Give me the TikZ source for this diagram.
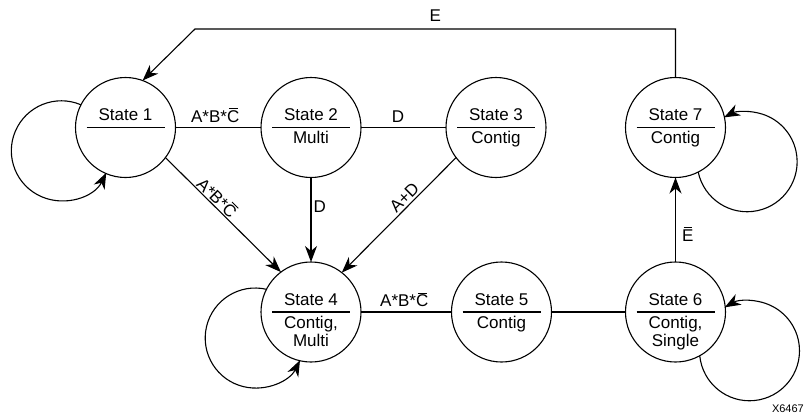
\documentclass[tikz,border=0pt]{standalone}
\usepackage{fontspec}
\setmainfont{Liberation Sans}
\usetikzlibrary{arrows.meta}
\newcommand\mfont{\fontsize{17}{18}\selectfont}
\newcommand\ovl[1]{\begingroup\setbox0\hbox{#1}\rlap{\raisebox{\dimexpr\ht0+1.3pt\relax}{\hbox to \wd0{\hss\rule{0.72\wd0}{0.9pt}\hss}}}\box0\endgroup}
\newcommand\stxt[3]{%
  \draw[conn] ([xshift=-39pt]#1.center) -- ([xshift=39pt]#1.center);
  \node[anchor=base] (#1top) at ([yshift=6.6pt]#1.center) {#2};
  \node[anchor=base] (#1bot) at ([yshift=-16pt]#1.center) {\begin{tabular}[t]{@{}c@{}}#3\end{tabular}};}
\newcommand\selfloop[3]{%
  \pgfmathsetmacro\lpA{#2-#3}%
  \pgfmathsetmacro\lpB{#2+180+#3}%
  \pgfmathsetmacro\lpC{360-2*#3}%
  \draw[arr] (#1.\lpA) arc[start angle=\lpB, delta angle=\lpC, radius=50pt];}
\begin{document}
\begin{tikzpicture}[x=1pt,y=-1pt,
  every node/.style={font=\mfont},
  conn/.style={line width=1.1pt, draw=black},
  arr/.style={conn, -{Stealth[length=16pt,width=12pt,inset=5pt]}},
  state/.style={circle, draw, line width=1.1pt, minimum size=100pt, inner sep=0pt, outer sep=0pt}]
\useasboundingbox (0,0) rectangle (805,415);
% states
\node[state] (s1) at (125.5,127.5) {};
\node[state] (s2) at (311,127.5) {};
\node[state] (s3) at (496,127.5) {};
\node[state] (s7) at (675.5,127.5) {};
\node[state] (s4) at (311,312) {};
\node[state] (s5) at (501.5,312) {};
\node[state] (s6) at (675.5,312) {};
\stxt{s1}{State 1}{}
\stxt{s2}{State 2}{Multi}
\stxt{s3}{State 3}{Contig}
\stxt{s7}{State 7}{Contig}
\stxt{s4}{State 4}{Contig,\\Multi}
\stxt{s5}{State 5}{Contig}
\stxt{s6}{State 6}{Contig,\\Single}
% connectors
\draw[conn] (s1) -- node[anchor=base, yshift=5.3pt, xshift=-3pt] (l12) {A*B*\ovl{C}} (s2);
\draw[conn] (s2) -- node[anchor=base, yshift=5.3pt, xshift=-5.5pt] (l23) {D} (s3);
\draw[conn] (s4) -- node[anchor=base, yshift=5.3pt, xshift=-2pt] (l45) {A*B*\ovl{C}} (s5);
\draw[conn] (s5) -- (s6);
\draw[arr] (s1.-37.7) -- node[sloped, above, pos=0.4, inner sep=1pt] (l14) {A*B*\ovl{C}} (s4.127.7);
\draw[arr] (s2) -- node[right, pos=0.35, inner sep=2pt] (l24) {D} (s4);
\draw[arr] (s3.217.7) -- node[sloped, above, pos=0.4, inner sep=2pt] (l34) {A+D} (s4.52.3);
\draw[arr] (s6) -- node[right, pos=0.33, inner sep=6pt] (l67) {\ovl{E}} (s7);
\coordinate (c1) at (675.5,29);
\coordinate (c2) at (195,29);
\draw[arr] (s7.north) -- (c1) -- node[anchor=base, yshift=8pt] (l71) {E} (c2) -- (s1.70);
% self loops
\selfloop{s1}{200.4}{46.5}
\selfloop{s4}{205.3}{51.7}
\selfloop{s7}{334.7}{37.2}
\selfloop{s6}{332.7}{33}
\node[font=\fontsize{11}{13}\selectfont, anchor=base east, inner sep=0pt] (code) at (804,412.3) {X6467};
\end{tikzpicture}
\end{document}
